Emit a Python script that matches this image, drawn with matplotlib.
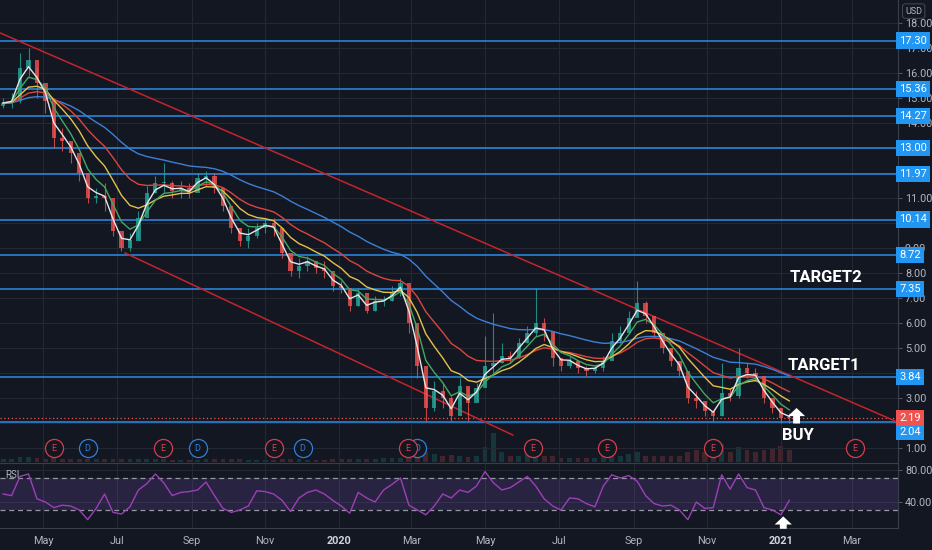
import numpy as np
import pandas as pd
import matplotlib
matplotlib.use('Agg')
import matplotlib.pyplot as plt
import matplotlib.dates as mdates

plt.rcParams['font.family'] = ['Roboto', 'DejaVu Sans']

# weekly bars (Friday of each week)
first_week = '2019-03-29'
closes = [14.8, 14.9, 16.2, 16.5, 15.6, 14.9, 13.4, 13.3, 12.8, 12.0,
          11.0, 11.1, 11.0, 9.7, 9.0, 9.3, 10.2, 11.2, 11.6, 11.6,
          11.3, 11.4, 11.2, 11.8, 11.9, 11.4, 10.7, 9.8, 9.3, 9.5,
          9.8, 10.0, 9.8, 8.8, 8.1, 8.3, 8.5, 8.2, 8.1, 7.5,
          7.4, 6.7, 7.2, 6.5, 6.9, 6.9, 7.2, 7.6, 6.0, 4.3,
          2.6, 3.3, 3.0, 2.3, 3.5, 2.8, 3.4, 4.3, 4.4, 4.7,
          4.6, 5.2, 5.6, 6.0, 5.7, 4.6, 4.3, 4.5, 4.2, 4.1,
          4.2, 4.5, 5.3, 5.6, 6.2, 6.8, 6.3, 5.6, 5.0, 4.5,
          4.1, 3.0, 2.9, 2.5, 2.3, 3.2, 3.1, 4.2, 4.0, 3.9,
          3.0, 2.6, 2.2, 2.19]
highs = [15.0, 15.2, 16.8, 17.0, 16.2, 15.4, 14.4, 13.8, 13.2, 12.5,
         11.6, 11.4, 11.6, 10.3, 9.5, 9.6, 10.5, 11.5, 11.9, 12.4,
         11.7, 11.7, 11.6, 12.0, 12.1, 12.0, 11.2, 10.5, 9.8, 9.8,
         10.0, 10.2, 10.2, 9.8, 8.6, 8.6, 8.7, 8.5, 8.5, 8.0,
         7.7, 7.3, 7.4, 7.0, 7.1, 7.1, 7.5, 7.8, 7.2, 5.8,
         3.8, 3.7, 3.6, 3.1, 3.8, 3.4, 3.6, 5.5, 6.4, 5.2,
         4.9, 5.4, 5.9, 7.4, 6.2, 5.6, 4.6, 4.7, 4.5, 4.3,
         4.3, 4.7, 5.6, 5.9, 6.5, 7.7, 6.9, 6.1, 5.5, 5.0,
         4.5, 3.9, 3.3, 2.9, 2.5, 4.4, 3.4, 5.0, 4.4, 4.2,
         3.9, 2.9, 2.6, 2.4]
lows = [14.6, 14.6, 14.8, 15.9, 15.0, 14.4, 13.0, 12.9, 12.4, 11.7,
        10.8, 10.8, 10.5, 9.5, 8.9, 8.9, 9.4, 10.4, 11.2, 11.2,
        11.0, 11.0, 11.0, 11.3, 11.5, 11.2, 10.5, 9.6, 9.1, 9.0,
        9.4, 9.6, 9.5, 8.6, 7.9, 7.8, 8.1, 8.0, 7.8, 7.3,
        7.2, 6.5, 6.7, 6.4, 6.5, 6.7, 6.9, 7.1, 5.6, 3.8,
        2.1, 2.5, 2.6, 2.1, 2.7, 2.1, 2.9, 3.5, 4.0, 4.4,
        4.4, 4.6, 5.2, 5.5, 5.3, 4.3, 4.1, 4.2, 4.0, 3.9,
        4.0, 4.1, 4.8, 5.2, 5.8, 6.3, 6.0, 5.4, 4.8, 4.3,
        3.9, 2.8, 2.6, 2.3, 2.1, 2.3, 2.9, 3.0, 3.8, 3.7,
        2.8, 2.4, 2.0, 2.0]
volume = [3, 3, 5, 5, 4, 3, 4, 3, 3, 3,
          3, 3, 3, 3, 3, 3, 3, 3, 3, 3,
          2, 2, 2, 2, 3, 3, 3, 3, 3, 2,
          2, 2, 2, 3, 3, 3, 2, 2, 2, 3,
          3, 3, 3, 3, 3, 4, 4, 4, 8, 12,
          10, 8, 6, 7, 6, 5, 6, 15, 28, 10,
          6, 6, 8, 12, 6, 6, 4, 4, 4, 4,
          4, 6, 8, 6, 8, 10, 6, 6, 6, 6,
          6, 10, 12, 10, 8, 18, 10, 15, 12, 10,
          12, 14, 16, 12]
rsi = [50, 48, 72, 75, 44, 40, 33, 36, 35, 30,
       18, 32, 50, 27, 25, 34, 55, 63, 75, 64,
       48, 52, 53, 55, 65, 48, 32, 27, 30, 35,
       54, 53, 50, 42, 28, 45, 52, 55, 50, 42,
       35, 26, 52, 45, 40, 55, 62, 70, 36, 30,
       24, 35, 50, 45, 55, 52, 60, 78, 64, 55,
       58, 65, 72, 60, 44, 35, 30, 45, 44, 38,
       34, 60, 74, 70, 73, 66, 48, 38, 35, 36,
       30, 18, 40, 32, 33, 74, 56, 75, 58, 55,
       33, 30, 24, 42]

levels = [17.30, 15.36, 14.27, 13.00, 11.97, 10.14, 8.72, 7.35, 3.84, 2.04]
last_price = 2.19

upper_trend_dates = ['2019-04-19', '2021-01-02']
upper_trend_prices = [17.11, 4.04]
lower_trend_dates = ['2019-07-08', '2020-05-24']
lower_trend_prices = [8.8, 1.52]

earn_dates = ['2019-05-10', '2019-08-08', '2019-11-08', '2020-02-27',
              '2020-06-10', '2020-08-10', '2020-11-06', '2021-03-03']
div_dates = ['2019-06-07', '2019-09-06', '2019-12-02', '2020-03-06']

ma_spans = [2, 4, 8, 14, 28]
ma_colors = ['#e6e6e6', '#43a860', '#e3c14a', '#d9463f', '#3d7fd6']

tick_dates = ['2019-05-01', '2019-07-01', '2019-09-01', '2019-11-01', '2020-01-01',
              '2020-03-01', '2020-05-01', '2020-07-01', '2020-09-01', '2020-11-01',
              '2021-01-01', '2021-03-01']
tick_labels = ['May', 'Jul', 'Sep', 'Nov', '2020', 'Mar', 'May', 'Jul', 'Sep', 'Nov',
               '2021', 'Mar']
price_ticks = [1, 3, 5, 6, 7, 8, 9, 11, 14, 15, 16, 17, 18]

BG = '#131722'
GRID = '#242833'
TXT = '#b2b5be'
UP = '#26a69a'
DOWN = '#ef5350'
LEVEL = '#2a8de8'

dates = pd.date_range(first_week, periods=len(closes), freq='7D')
x = mdates.date2num(dates)
opens = [closes[0] - 0.1] + closes[:-1]
up = np.array(closes) >= np.array(opens)
colors = np.where(up, UP, DOWN)

x0 = mdates.date2num(pd.Timestamp('2019-05-01'))
xlim = (x0 - 35.6, x0 + 708)

fig = plt.figure(figsize=(9.32, 5.5), dpi=100, facecolor=BG)
rect_main = [0, 88 / 550, 898 / 932, 462 / 550]
axv = fig.add_axes(rect_main, zorder=0)
ax = fig.add_axes(rect_main, zorder=1, sharex=axv)
ar = fig.add_axes([0, 22 / 550, 898 / 932, 65 / 550], sharex=axv)

# volume underneath
axv.set_facecolor(BG)
axv.bar(x, volume, width=4, color=colors, alpha=0.22)
axv.set_ylim(0, 450)
axv.set_yticks([])
for s in axv.spines.values():
    s.set_visible(False)
axv.tick_params(axis='x', length=0, labelbottom=False)

ax.patch.set_visible(False)
ax.set_xlim(*xlim)
ax.set_ylim(0.44, 18.92)
ax.set_yticks(np.arange(1, 19))
ax.set_yticklabels([f'{v:.2f}' if v in price_ticks else '' for v in range(1, 19)])
ax.yaxis.tick_right()
ax.tick_params(axis='y', colors='#50535e', labelcolor=TXT, labelsize=7.8, length=3, pad=2)
ax.tick_params(axis='x', length=0, labelbottom=False)
ax.set_xticks(mdates.date2num(pd.to_datetime(tick_dates)))
ax.grid(True, color=GRID, lw=0.8)
ax.set_axisbelow(True)
for k, s in ax.spines.items():
    s.set_visible(k == 'right')
ax.spines['right'].set_color('#3a3e4a')

# horizontal levels
for lv in levels:
    ax.axhline(lv, color=LEVEL, lw=1.1, zorder=2)
ax.axhline(last_price, color=DOWN, lw=0.9, ls=(0, (1, 2)), zorder=2)

# trend lines
ut = mdates.date2num(pd.to_datetime(upper_trend_dates))
ax.axline((ut[0], upper_trend_prices[0]), (ut[1], upper_trend_prices[1]),
          color='#c4242b', lw=1.1, zorder=2)
lt = mdates.date2num(pd.to_datetime(lower_trend_dates))
ax.plot(lt, lower_trend_prices, color='#c4242b', lw=1.1, zorder=2)

# candles
ax.vlines(x, lows, highs, color=colors, lw=0.8, alpha=0.8, zorder=3)
body_low = np.minimum(opens, closes)
body_h = np.maximum(np.abs(np.array(closes) - np.array(opens)), 0.04)
ax.bar(x, body_h, bottom=body_low, width=3.5, color=colors, alpha=0.8, zorder=3)

# moving averages
cs = pd.Series(closes)
for span, c in zip(ma_spans[::-1], ma_colors[::-1]):
    ma = cs.ewm(span=span, adjust=False).mean()
    ax.plot(x, ma, color=c, lw=1.0, zorder=4)

# price labels on the axis
for lv in levels:
    off = -7 if lv == 2.04 else 0
    ax.annotate(f'{lv:.2f}', xy=(1.0, lv), xycoords=ax.get_yaxis_transform(),
                xytext=(1.0, off), textcoords='offset points', ha='left', va='center',
                color='white', fontsize=8,
                bbox=dict(boxstyle='square,pad=0.28', fc='#2196f3', ec='none'),
                annotation_clip=False, zorder=6)
ax.annotate(f'{last_price:.2f}', xy=(1.0, last_price), xycoords=ax.get_yaxis_transform(),
            xytext=(1.0, 0), textcoords='offset points', ha='left', va='center',
            color='white', fontsize=8,
            bbox=dict(boxstyle='square,pad=0.28', fc=DOWN, ec='none'),
            annotation_clip=False, zorder=7)
ax.text(1.008, 0.976, 'USD', transform=ax.transAxes, color=TXT, fontsize=6.5,
        ha='left', va='center',
        bbox=dict(boxstyle='round,pad=0.3', fc=BG, ec='#50535e', lw=0.6))

# events
ev_y = ax.get_xaxis_transform()
for d in mdates.date2num(pd.to_datetime(div_dates)):
    ax.scatter([d], [0.03], s=170, facecolor=BG, edgecolor='#2f7fd8', lw=0.9,
               transform=ev_y, zorder=5, clip_on=False)
    ax.text(d, 0.03, 'D', transform=ev_y, color='#2f7fd8', fontsize=6.5,
            ha='center', va='center', zorder=5)
for d in mdates.date2num(pd.to_datetime(earn_dates)):
    ax.scatter([d], [0.03], s=170, facecolor=BG, edgecolor='#d23f4a', lw=0.9,
               transform=ev_y, zorder=5, clip_on=False)
    ax.text(d, 0.03, 'E', transform=ev_y, color='#d23f4a', fontsize=6.5,
            ha='center', va='center', zorder=5)

# annotations
tfont = dict(family=['Roboto', 'DejaVu Sans'], fontweight='bold',
             color='white', fontsize=12, ha='center', va='center', zorder=8)
ax.text(mdates.date2num(pd.Timestamp('2021-02-07')), 7.84, 'TARGET2', **tfont)
ax.text(mdates.date2num(pd.Timestamp('2021-02-06')), 4.28, 'TARGET1', **tfont)
ax.text(mdates.date2num(pd.Timestamp('2021-01-15')), 1.52, 'BUY', **tfont)
arrow = dict(arrowstyle='simple,head_length=0.45,head_width=0.95,tail_width=0.38',
             fc='white', ec='none', mutation_scale=13, shrinkA=0, shrinkB=0)
xa = mdates.date2num(pd.Timestamp('2021-01-14'))
ax.annotate('', xy=(xa, 2.6), xytext=(xa, 1.98), arrowprops=arrow, zorder=8)

# RSI pane
ar.set_facecolor(BG)
ar.set_ylim(7.5, 88.75)
ar.axhspan(30, 70, color='#7e57c2', alpha=0.2, lw=0)
ar.axhline(70, color='#9598a1', lw=0.9, ls=(0, (4, 3)))
ar.axhline(30, color='#9598a1', lw=0.9, ls=(0, (4, 3)))
ar.plot(x, rsi, color='#9c3fb8', lw=1.0)
ar.set_yticks([40, 80])
ar.yaxis.set_major_formatter(plt.FuncFormatter(lambda v, p: f'{v:.2f}'))
ar.yaxis.tick_right()
ar.tick_params(axis='y', colors='#50535e', labelcolor=TXT, labelsize=7.8, length=3, pad=2)
ar.set_xticks(mdates.date2num(pd.to_datetime(tick_dates)))
ar.set_xticklabels(tick_labels)
ar.tick_params(axis='x', length=0, labelcolor=TXT, labelsize=7.8, pad=6)
for lab in ar.get_xticklabels():
    if lab.get_text() in ('2020', '2021'):
        lab.set_fontweight('bold')
        lab.set_color('#d1d4dc')
ar.grid(True, color=GRID, lw=0.8)
ar.set_axisbelow(True)
for k, s in ar.spines.items():
    s.set_color('#3a3e4a')
ar.spines['left'].set_visible(False)
ar.text(0.006, 0.82, 'RSI', transform=ar.transAxes, color=TXT, fontsize=7, ha='left', va='center')
xb = mdates.date2num(pd.Timestamp('2021-01-03'))
ar.annotate('', xy=(xb, 22), xytext=(xb, 6.5), arrowprops=arrow, annotation_clip=False,
            zorder=8)
ar.set_xlim(*xlim)

fig.savefig('out.png', dpi=100, facecolor=BG)
